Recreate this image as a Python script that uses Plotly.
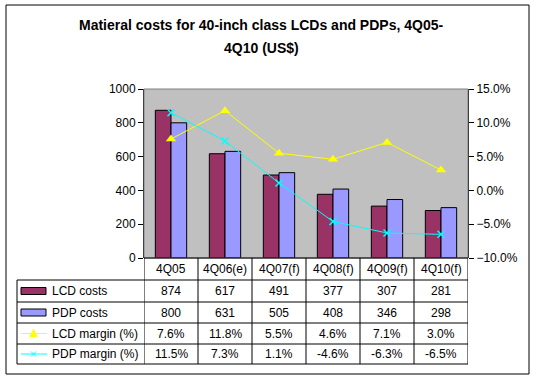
import plotly.graph_objects as go

categories = ["4Q05", "4Q06(e)", "4Q07(f)", "4Q08(f)", "4Q09(f)", "4Q10(f)"]
lcd_costs = [874, 617, 491, 377, 307, 281]
pdp_costs = [800, 631, 505, 408, 346, 298]
lcd_margin = [7.6, 11.8, 5.5, 4.6, 7.1, 3.0]
pdp_margin = [11.5, 7.3, 1.1, -4.6, -6.3, -6.5]
row_labels = ["LCD costs", "PDP costs", "LCD margin (%)", "PDP margin (%)"]
title_lines = ["Matieral costs for 40-inch class LCDs and PDPs, 4Q05-", "4Q10 (US$)"]

W, H = 536, 381
L, R, T, B = 144, 468, 89, 258
FONT = "Arial, Liberation Sans, sans-serif"

LCD_COL = "#993366"
PDP_COL = "#9999FF"
LCDM_COL = "#FFFF00"
PDPM_COL = "#00FFFF"


def px(x):
    return (x - L) / (R - L)


def py(y):
    return (B - y) / (B - T)


fig = go.Figure()
fig.add_trace(go.Bar(x=categories, y=lcd_costs, name="LCD costs",
                     marker=dict(color=LCD_COL, line=dict(color="black", width=1))))
fig.add_trace(go.Bar(x=categories, y=pdp_costs, name="PDP costs",
                     marker=dict(color=PDP_COL, line=dict(color="black", width=1))))
fig.add_trace(go.Scatter(x=categories, y=[v / 100 for v in lcd_margin], yaxis="y2",
                         name="LCD margin (%)", mode="lines+markers",
                         line=dict(color=LCDM_COL, width=1),
                         marker=dict(symbol="triangle-up", size=9, color=LCDM_COL)))
fig.add_trace(go.Scatter(x=categories, y=[v / 100 for v in pdp_margin], yaxis="y2",
                         name="PDP margin (%)", mode="lines+markers",
                         line=dict(color=PDPM_COL, width=1),
                         marker=dict(symbol="x-thin", size=7,
                                     line=dict(color=PDPM_COL, width=1.5))))

shapes = []
annotations = []
black = dict(color="black", width=1)

# plot area border (gray)
shapes.append(dict(type="rect", xref="paper", yref="paper", x0=0, x1=1, y0=0, y1=1,
                   line=dict(color="#808080", width=1), layer="above"))

# table rows
row_lines = [280, 302, 323, 344, 364]
for yl in row_lines:
    shapes.append(dict(type="line", xref="paper", yref="paper",
                       x0=px(17), x1=1, y0=py(yl), y1=py(yl), line=black))
shapes.append(dict(type="line", xref="paper", yref="paper",
                   x0=0, x1=1, y0=0, y1=0, line=black))
# vertical lines
for i in range(len(categories) + 1):
    shapes.append(dict(type="line", xref="x", yref="paper",
                       x0=i - 0.5, x1=i - 0.5, y0=0, y1=py(364), line=black))
shapes.append(dict(type="line", xref="paper", yref="paper",
                   x0=px(17), x1=px(17), y0=py(280), y1=py(364), line=black))

# header row labels
for i, c in enumerate(categories):
    annotations.append(dict(x=c, xref="x", y=py(269), yref="paper", text=c,
                            xanchor="center", yanchor="middle",
                            showarrow=False, font=dict(size=12, family=FONT, color="black")))

row_centers = [291, 312.5, 333.5, 354]
values = [
    [str(v) for v in lcd_costs],
    [str(v) for v in pdp_costs],
    [f"{v:.1f}%" for v in lcd_margin],
    [f"{v:.1f}%" for v in pdp_margin],
]
for r, yc in enumerate(row_centers):
    for i, c in enumerate(categories):
        annotations.append(dict(x=c, xref="x", y=py(yc), yref="paper", text=values[r][i],
                                xanchor="center", yanchor="middle",
                                showarrow=False, font=dict(size=12, family=FONT, color="black")))
    annotations.append(dict(x=px(50), xref="paper", y=py(yc), yref="paper", text=row_labels[r],
                            xanchor="left", yanchor="middle", showarrow=False,
                            font=dict(size=12, family=FONT, color="black")))

# legend keys
for r, col in enumerate([LCD_COL, PDP_COL]):
    yc = row_centers[r]
    shapes.append(dict(type="rect", xref="paper", yref="paper",
                       x0=px(21), x1=px(46), y0=py(yc + 3.5), y1=py(yc - 3.5),
                       fillcolor=col, line=black))
for r, col in [(2, LCDM_COL), (3, PDPM_COL)]:
    yc = row_centers[r]
    shapes.append(dict(type="line", xref="paper", yref="paper",
                       x0=px(21), x1=px(47), y0=py(yc), y1=py(yc),
                       line=dict(color=col, width=1)))
# triangle key marker
yc = row_centers[2]
tri = f"M {px(30)},{py(yc + 3)} L {px(37)},{py(yc + 3)} L {px(33.5)},{py(yc - 4)} Z"
shapes.append(dict(type="path", xref="paper", yref="paper", path=tri,
                   fillcolor=LCDM_COL, line=dict(color=LCDM_COL, width=1)))
# x key marker
yc = row_centers[3]
for dx0, dy0, dx1, dy1 in [(-2.5, -2.5, 2.5, 2.5), (-2.5, 2.5, 2.5, -2.5)]:
    shapes.append(dict(type="line", xref="paper", yref="paper",
                       x0=px(33.5 + dx0), y0=py(yc + dy0), x1=px(33.5 + dx1), y1=py(yc + dy1),
                       line=dict(color=PDPM_COL, width=1)))

# outer border
shapes.append(dict(type="rect", xref="paper", yref="paper",
                   x0=px(6), x1=px(529), y0=py(374), y1=py(5), line=black))

# title (two lines)
for txt, yy in zip(title_lines, [25, 48]):
    annotations.append(dict(x=px(261), xref="paper", y=py(yy), yref="paper",
                            xanchor="center", yanchor="middle",
                            text=f"<b>{txt}</b>", showarrow=False,
                            font=dict(size=14, family=FONT, color="black")))

fig.update_layout(
    width=W, height=H,
    margin=dict(l=L, r=W - R, t=T, b=H - B),
    paper_bgcolor="white", plot_bgcolor="#C0C0C0",
    showlegend=False,
    barmode="group", bargap=0.42, bargroupgap=0,
    font=dict(family=FONT, size=12, color="black"),
    xaxis=dict(range=[-0.5, 5.5], showticklabels=False, showgrid=False, zeroline=False,
               showline=False, ticks=""),
    yaxis=dict(range=[0, 1000], dtick=200, showgrid=False, zeroline=False,
               showline=True, linecolor="black", linewidth=1,
               ticks="outside", ticklen=5, tickcolor="black",
               tickfont=dict(size=12, family=FONT, color="black")),
    yaxis2=dict(range=[-0.10, 0.15], dtick=0.05, tickformat=".1%", overlaying="y",
                side="right", showgrid=False, zeroline=False,
                showline=True, linecolor="black", linewidth=1,
                ticks="outside", ticklen=5, tickcolor="black",
                tickfont=dict(size=12, family=FONT, color="black")),
    shapes=shapes,
    annotations=annotations,
)

fig.write_html("out.html", config={"displayModeBar": False},
               post_script="document.body.style.margin='0';document.body.style.overflow='hidden';")
